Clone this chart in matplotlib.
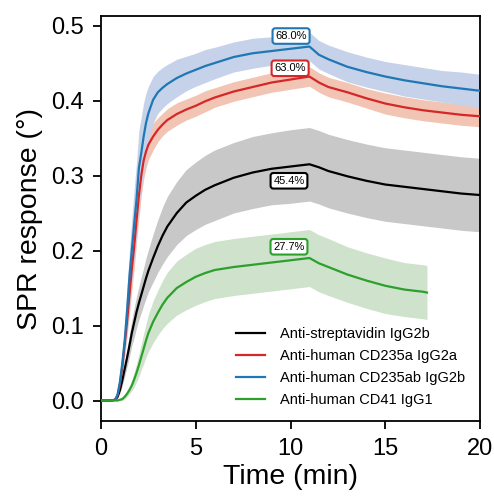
import matplotlib
matplotlib.use("Agg")
import matplotlib.pyplot as plt
import numpy as np

plt.rcParams['font.family'] = ['Liberation Sans', 'DejaVu Sans']

# ---- data ----
time_min = [0, 0.5, 0.75, 0.875, 1.0, 1.125, 1.25, 1.375, 1.5, 1.625, 1.75, 1.875, 2.0, 2.125,
            2.25, 2.375, 2.5, 2.75, 3.0, 3.25, 3.5, 4.0, 4.5, 5, 5.5, 6, 7, 8, 9, 10, 11,
            11.5, 12, 13, 14, 15, 16, 17, 18, 19, 20]

strep_mean = [0, 0, 0.001, 0.005, 0.014, 0.027, 0.042, 0.057, 0.073, 0.09, 0.104, 0.118, 0.13, 0.141,
              0.152, 0.163, 0.173, 0.19, 0.206, 0.22, 0.232, 0.25, 0.264, 0.273, 0.281, 0.287, 0.297, 0.304, 0.309, 0.312, 0.315,
              0.311, 0.306, 0.299, 0.293, 0.288, 0.285, 0.282, 0.279, 0.276, 0.274]
strep_sd = [0, 0, 0.001, 0.002, 0.004, 0.007, 0.01, 0.012, 0.015, 0.017, 0.02, 0.021, 0.022, 0.024,
            0.025, 0.027, 0.028, 0.032, 0.035, 0.038, 0.04, 0.042, 0.044, 0.045, 0.046, 0.047, 0.047, 0.048, 0.048, 0.049, 0.049,
            0.049, 0.049, 0.049, 0.049, 0.049, 0.049, 0.049, 0.049, 0.049, 0.049]

cd235a_mean = [0, 0, 0.001, 0.007, 0.022, 0.045, 0.075, 0.105, 0.14, 0.175, 0.205, 0.24, 0.273, 0.3,
               0.32, 0.332, 0.341, 0.352, 0.361, 0.368, 0.374, 0.382, 0.388, 0.393, 0.399, 0.404, 0.412, 0.418, 0.424, 0.428, 0.432,
               0.424, 0.418, 0.411, 0.403, 0.396, 0.391, 0.387, 0.384, 0.381, 0.379]
cd235a_sd = [0, 0, 0.001, 0.003, 0.006, 0.01, 0.015, 0.02, 0.025, 0.028, 0.03, 0.03, 0.03, 0.027,
             0.025, 0.022, 0.02, 0.018, 0.016, 0.015, 0.015, 0.015, 0.014, 0.014, 0.014, 0.013, 0.013, 0.013, 0.013, 0.013, 0.013,
             0.013, 0.013, 0.013, 0.013, 0.014, 0.014, 0.014, 0.014, 0.014, 0.014]

cd235ab_mean = [0, 0, 0.001, 0.008, 0.025, 0.05, 0.08, 0.12, 0.165, 0.2, 0.235, 0.268, 0.31, 0.33,
                0.352, 0.37, 0.383, 0.401, 0.411, 0.417, 0.422, 0.43, 0.436, 0.441, 0.446, 0.45, 0.458, 0.463, 0.466, 0.469, 0.472,
                0.461, 0.455, 0.445, 0.438, 0.432, 0.427, 0.423, 0.419, 0.416, 0.413]
cd235ab_sd = [0, 0, 0.001, 0.004, 0.008, 0.014, 0.02, 0.028, 0.036, 0.042, 0.047, 0.05, 0.05, 0.048,
              0.045, 0.04, 0.036, 0.031, 0.028, 0.027, 0.026, 0.025, 0.023, 0.022, 0.022, 0.021, 0.02, 0.02, 0.019, 0.019, 0.019,
              0.019, 0.019, 0.02, 0.02, 0.02, 0.021, 0.021, 0.021, 0.022, 0.022]

time_cd41 = [0, 0.5, 0.75, 0.875, 1.0, 1.125, 1.25, 1.375, 1.5, 1.625, 1.75, 1.875, 2.0, 2.125,
             2.25, 2.375, 2.5, 2.75, 3.0, 3.25, 3.5, 4.0, 4.5, 5, 5.5, 6, 7, 8, 9, 10, 11,
             11.5, 12, 13, 14, 15, 16, 17, 17.2]
cd41_mean = [0, 0, 0, 0, 0.001, 0.002, 0.005, 0.009, 0.014, 0.02, 0.028, 0.037, 0.047, 0.058,
             0.069, 0.08, 0.09, 0.105, 0.117, 0.128, 0.137, 0.15, 0.158, 0.165, 0.17, 0.174, 0.178, 0.181, 0.184, 0.187, 0.19,
             0.183, 0.178, 0.168, 0.16, 0.153, 0.148, 0.145, 0.144]
cd41_sd = [0, 0, 0, 0, 0.001, 0.002, 0.003, 0.004, 0.005, 0.007, 0.01, 0.012, 0.015, 0.017,
           0.02, 0.022, 0.025, 0.028, 0.03, 0.032, 0.034, 0.036, 0.037, 0.038, 0.038, 0.038, 0.038, 0.038, 0.038, 0.038, 0.038,
           0.038, 0.038, 0.037, 0.037, 0.037, 0.036, 0.036, 0.036]

labels = ['Anti-streptavidin IgG2b', 'Anti-human CD235a IgG2a',
          'Anti-human CD235ab IgG2b', 'Anti-human CD41 IgG1']
percent_labels = ['45.4%', '63.0%', '68.0%', '27.7%']
percent_pos = [(9.92, 0.293), (9.98, 0.443), (10.03, 0.486), (9.92, 0.205)]

line_colors = ['black', '#d62728', '#1f77b4', '#2ca02c']
band_colors = ['#c8c8c8', '#f2c4b3', '#c5d2e9', '#cfe2cb']

series = [
    (time_min, strep_mean, strep_sd),
    (time_min, cd235a_mean, cd235a_sd),
    (time_min, cd235ab_mean, cd235ab_sd),
    (time_cd41, cd41_mean, cd41_sd),
]

fig = plt.figure(figsize=(4.94, 4.96), dpi=100)
ax = fig.add_axes([101/494, 75/496, 379/494, 405/496])

for (t, m, s), bc in zip(series, band_colors):
    t = np.asarray(t); m = np.asarray(m); s = np.asarray(s)
    ax.fill_between(t, m - s, m + s, color=bc, linewidth=0, zorder=1)

handles = []
for (t, m, s), lc, lab in zip(series, line_colors, labels):
    h, = ax.plot(t, m, color=lc, lw=1.6, label=lab, zorder=3)
    handles.append(h)

for txt, (x, y), lc in zip(percent_labels, percent_pos, line_colors):
    ax.text(x, y, txt, ha='center', va='center', fontsize=8, zorder=5,
            bbox=dict(boxstyle='round,pad=0.25,rounding_size=0.25', fc='white', ec=lc, lw=1.5))

ax.set_xlim(0, 20)
ax.set_ylim(-0.0273, 0.5127)
ax.set_xticks([0, 5, 10, 15, 20])
ax.set_yticks([0.0, 0.1, 0.2, 0.3, 0.4, 0.5])
ax.set_yticklabels(['0.0', '0.1', '0.2', '0.3', '0.4', '0.5'])
ax.tick_params(direction='out', length=6, width=1.3, labelsize=17, pad=6)
for sp in ax.spines.values():
    sp.set_linewidth(1.3)

ax.set_xlabel('Time (min)', fontsize=20.5, labelpad=3)
ax.set_ylabel('SPR response (°)', fontsize=20.5, labelpad=6)

ax.legend(handles=handles, loc='lower left', bbox_to_anchor=(0.356, 0.035),
          frameon=False, fontsize=10.5, borderaxespad=0, borderpad=0,
          handlelength=2.0, handletextpad=1.0, labelspacing=0.55)

fig.savefig('out.png', dpi=100)
